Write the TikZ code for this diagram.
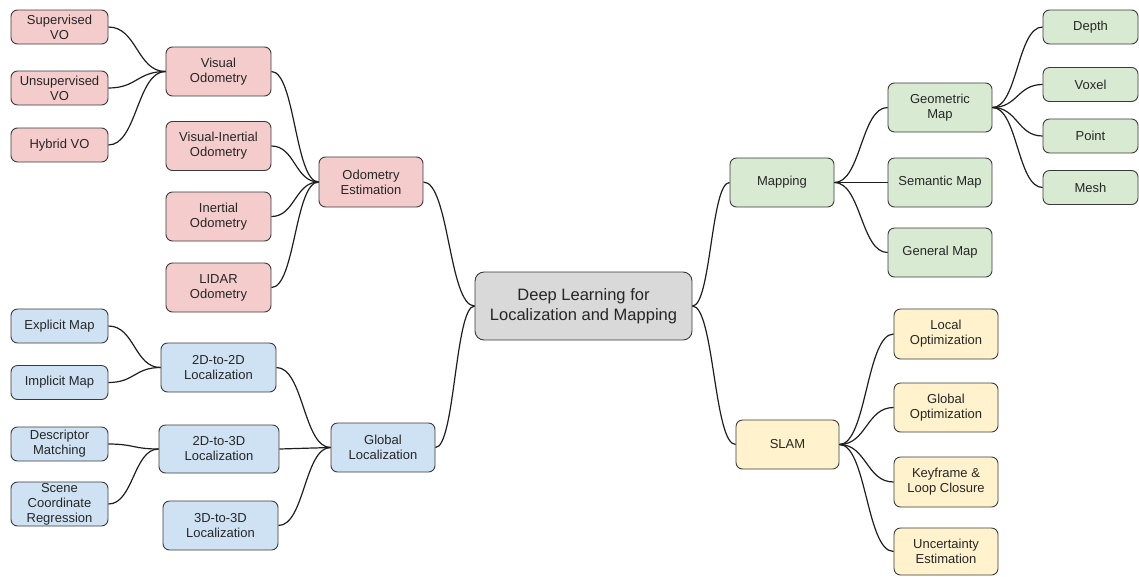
\documentclass[tikz,border=0pt]{standalone}
\usepackage{fontspec}
\setmainfont{Liberation Sans}
\usetikzlibrary{calc}

\definecolor{redfill}{HTML}{F4CCCC}
\definecolor{greenfill}{HTML}{D9EAD3}
\definecolor{bluefill}{HTML}{CFE2F3}
\definecolor{yellowfill}{HTML}{FFF2CC}
\definecolor{grayfill}{HTML}{D9D9D9}
\definecolor{boxline}{HTML}{3A3A3A}
\definecolor{linkline}{HTML}{1E1E1E}
\definecolor{boxtext}{HTML}{262626}

\tikzset{
  box/.style={draw=boxline, line width=0.9pt, rounded corners=6.5pt,
    align=center, inner sep=0pt, text=boxtext,
    font=\fontsize{13}{15}\selectfont},
  sz/.style 2 args={minimum width=#1pt, minimum height=#2pt},
  rbox/.style={box, fill=redfill},
  gbox/.style={box, fill=greenfill},
  bbox/.style={box, fill=bluefill},
  ybox/.style={box, fill=yellowfill},
  root/.style={box, fill=grayfill, rounded corners=9pt,
    font=\fontsize{16.5}{20}\selectfont},
  conn/.style={draw=linkline, line width=1.2pt},
}

% S-shaped link from the east side of #1 to the west side of #2
\newcommand\link[2]{%
  \draw[conn] let \p1=(#1.east), \p2=(#2.west), \n1={0.5*(\x2-\x1)} in
    (\p1) .. controls +(\n1,0pt) and +(-\n1,0pt) .. (\p2);}

\begin{document}
\begin{tikzpicture}[x=1pt,y=-1pt]
\useasboundingbox (0,0) rectangle (1139,576);

% root
\node[root, sz={217}{68}] (root) at (583.5,306) {Deep Learning for\\Localization and Mapping};

% odometry branch
\node[rbox, sz={97}{34}]  (sup)   at (59.5,27)    {Supervised\\VO};
\node[rbox, sz={97}{34}]  (unsup) at (59.5,88)    {Unsupervised\\VO};
\node[rbox, sz={97}{34}]  (hyb)   at (59.5,145)   {Hybrid VO};
\node[rbox, sz={105}{49}] (vo)    at (218.5,71.5) {Visual\\Odometry};
\node[rbox, sz={105}{49}] (vio)   at (218.5,146)  {Visual-Inertial\\Odometry};
\node[rbox, sz={105}{49}] (io)    at (218.5,216.5){Inertial\\Odometry};
\node[rbox, sz={105}{49}] (lo)    at (218.5,287.5){LIDAR\\Odometry};
\node[rbox, sz={104}{50}] (oe)    at (371,182)    {Odometry\\Estimation};

% global localization branch
\node[bbox, sz={97}{34}]  (expl)  at (59.5,326)   {Explicit Map};
\node[bbox, sz={97}{34}]  (impl)  at (59.5,382.5) {Implicit Map};
\node[bbox, sz={97}{34}]  (desc)  at (59.5,444)   {Descriptor\\Matching};
\node[bbox, sz={97}{44}]  (scene) at (59.5,504)   {Scene\\Coordinate\\Regression};
\node[bbox, sz={115}{49}] (dtt)   at (218.5,367.5){2D-to-2D\\Localization};
\node[bbox, sz={120}{48}] (dth)   at (219,449)    {2D-to-3D\\Localization};
\node[bbox, sz={115}{49}] (hth)   at (220.5,525.5){3D-to-3D\\Localization};
\node[bbox, sz={104}{49}] (gl)    at (383,447.5)  {Global\\Localization};

% mapping branch
\node[gbox, sz={104}{49}] (map)   at (782,182.5)  {Mapping};
\node[gbox, sz={104}{49}] (geo)   at (940,107.5)  {Geometric\\Map};
\node[gbox, sz={104}{49}] (sem)   at (940,182.5)  {Semantic Map};
\node[gbox, sz={104}{49}] (gen)   at (940,252.5)  {General Map};
\node[gbox, sz={95}{34}]  (depth) at (1090.5,27)  {Depth};
\node[gbox, sz={95}{34}]  (voxel) at (1090.5,84.5){Voxel};
\node[gbox, sz={95}{34}]  (point) at (1090.5,136) {Point};
\node[gbox, sz={95}{34}]  (mesh)  at (1090.5,187.5){Mesh};

% SLAM branch
\node[ybox, sz={103}{49}] (slam)  at (787.5,444.5){SLAM};
\node[ybox, sz={104}{50}] (lopt)  at (946,334)    {Local\\Optimization};
\node[ybox, sz={104}{49}] (gopt)  at (946,407.5)  {Global\\Optimization};
\node[ybox, sz={104}{50}] (kf)    at (946,482)    {Keyframe \&\\Loop Closure};
\node[ybox, sz={104}{47}] (unc)   at (946,551.5)  {Uncertainty\\Estimation};

% links on the left side
\link{sup}{vo}
\link{unsup}{vo}
\link{hyb}{vo}
\link{vo}{oe}
\link{vio}{oe}
\link{io}{oe}
\link{lo}{oe}
\link{oe}{root}
\link{expl}{dtt}
\link{impl}{dtt}
\link{desc}{dth}
\link{scene}{dth}
\link{dtt}{gl}
\link{dth}{gl}
\link{hth}{gl}
\link{gl}{root}

% links on the right side
\link{root}{map}
\link{root}{slam}
\link{map}{geo}
\link{map}{sem}
\link{map}{gen}
\link{geo}{depth}
\link{geo}{voxel}
\link{geo}{point}
\link{geo}{mesh}
\link{slam}{lopt}
\link{slam}{gopt}
\link{slam}{kf}
\link{slam}{unc}
\end{tikzpicture}
\end{document}
